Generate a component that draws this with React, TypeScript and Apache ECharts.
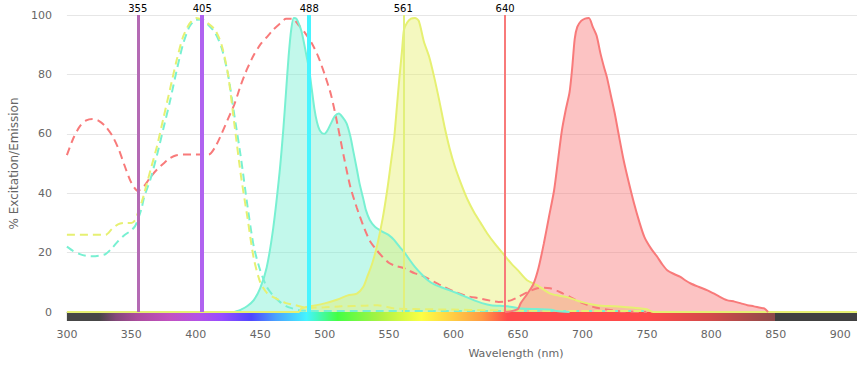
import React, { useEffect, useRef } from 'react';
import * as echarts from 'echarts';

const FONT = '"DejaVu Sans", sans-serif';

// axis range
const X_MIN = 300;
const X_MAX = 913;
const xTickInterval = 50;
const yTicks = [0, 20, 40, 60, 80, 100];

// laser lines (nm)
const laserWavelengths = [355, 405, 488, 561, 640];
const laserColors = ['#b46ab4', '#b063f0', '#48f4ff', '#e2f07c', '#f87a7a'];
const laserWidths = [3, 4, 4, 2, 2];

// excitation (dashed)
const cyanExWl = [300, 305, 310, 315, 320, 325, 330, 335, 340, 345, 350, 353, 355, 358, 360, 365, 370, 375, 380, 385, 390, 395, 400, 405, 410, 415, 420, 425, 430, 435, 440, 445, 450, 455, 460, 465, 470, 475, 480, 490, 750];
const cyanExVal = [22, 20.5, 19.5, 18.9, 18.8, 19, 19.5, 21.5, 24, 26, 27.5, 29, 31, 35, 38.8, 45, 53, 62, 71, 81, 90, 96, 98.4, 98.5, 96.5, 94, 89, 80, 66, 52, 36, 22, 14, 8.5, 5.5, 3.5, 2, 1.2, 0.6, 0.3, 0.3];

const yellowExWl = [300, 310, 320, 330, 335, 340, 345, 350, 353, 355, 358, 360, 365, 370, 375, 380, 385, 390, 395, 400, 405, 410, 415, 420, 425, 430, 435, 440, 445, 450, 455, 460, 465, 470, 477, 487, 500, 513, 530, 541, 554, 570, 600, 627, 700, 750];
const yellowExVal = [26, 26, 26, 26, 28, 29.6, 30, 30, 31, 33.3, 37, 40, 48, 56, 65.5, 75, 84.5, 92.5, 97, 99, 98.4, 97, 95, 90, 80, 63, 46, 32, 18, 10, 6.5, 5, 4, 3, 2.3, 1.4, 1.6, 1.9, 2.1, 2.3, 1.2, 1, 0.8, 0.6, 0.3, 0.3];

const redExWl = [300, 305, 310, 315, 320, 325, 330, 335, 340, 345, 350, 355, 360, 365, 370, 375, 380, 385, 390, 400, 410, 415, 420, 425, 430, 435, 440, 445, 450, 455, 460, 465, 470, 475, 480, 485, 490, 495, 500, 505, 510, 515, 520, 525, 530, 535, 540, 545, 550, 555, 560, 565, 570, 575, 580, 590, 600, 610, 620, 630, 635, 640, 645, 650, 655, 660, 665, 670, 675, 680, 685, 690, 695, 700, 705, 710, 720, 730, 750];
const redExVal = [52.8, 58.5, 62.5, 64.5, 65, 64.3, 62.5, 59.5, 55, 49, 43.5, 40.8, 42.5, 45.5, 48, 50, 51.8, 52.8, 53, 53, 53, 55.5, 60, 65, 70, 76.5, 82, 86.5, 90, 92.5, 95, 97, 98.7, 98.7, 96.5, 93.8, 90.5, 86, 80, 73, 63, 52, 42, 35, 29, 24, 21, 18.5, 16.5, 15.5, 15, 14, 13, 12.3, 11.3, 9, 7, 5.4, 4.6, 3.7, 3.4, 3.5, 4, 5, 6.2, 7.2, 8, 8.2, 8, 7.2, 6.2, 5.2, 4, 3, 2.2, 1.5, 0.8, 0.2, 0];

// emission (filled)
const cyanEmWl = [430, 435, 440, 445, 450, 455, 460, 465, 468, 470, 472, 474, 476, 478, 480, 482, 484, 486, 488, 490, 492, 494, 496, 498, 500, 502, 505, 508, 511, 514, 517, 520, 522, 525, 527, 530, 532, 535, 539, 545, 550, 554, 558, 562, 566, 570, 575, 580, 585, 590, 597, 603, 610, 616, 622, 629, 642, 652, 665, 676, 680, 690];
const cyanEmVal = [0, 0.8, 2, 4, 8, 15, 28, 47, 62, 74, 86, 95, 99, 98.8, 97, 94.5, 90.5, 86, 81.5, 75, 68.5, 64, 61.3, 60.2, 60, 61, 63.6, 66, 66.8, 65.5, 63.5, 59, 54.6, 48, 43.4, 38, 34.3, 31, 28.7, 27, 25.8, 24.2, 22, 20, 17.5, 15.2, 12.8, 10.7, 9.3, 8.4, 7.3, 6.3, 5, 3.9, 3, 2.3, 1.9, 1.2, 1, 0.8, 0.3, 0];

const yellowEmWl = [300, 480, 482, 490, 500, 510, 518, 525, 530, 533, 537, 541, 545, 548.5, 551, 554, 556, 558, 560, 561.5, 564, 567, 570, 573, 577, 581, 585, 589, 593, 597, 601, 606, 611, 616, 621, 626, 632, 640, 645, 650, 657, 665, 670, 675, 682, 688, 699, 711, 725, 740, 750, 755, 913];
const yellowEmVal = [0, 0, 1.2, 2, 2.9, 4.2, 5.6, 6.2, 8.5, 11.8, 16.5, 23, 31.5, 41, 49, 59, 69, 79, 88, 95, 97.5, 98.8, 99, 98, 91, 86, 79, 71, 62.4, 55, 49, 43, 37.7, 33.5, 30, 26.5, 23, 18.8, 16.2, 14, 10.7, 9, 7.5, 6.2, 5.5, 5, 3.4, 2.3, 1.9, 1.4, 0.9, 0, 0];

const redEmWl = [640, 645, 650, 652, 657, 662, 666, 670, 674, 678, 681, 684, 687, 690, 692, 694, 696, 699, 702, 705, 708, 711, 714, 717, 719, 722, 725, 728, 732, 736, 740, 744, 748, 753, 758, 762, 766, 771, 776, 780, 784, 790, 797, 805, 812, 818, 823, 828, 833, 838, 841, 844];
const redEmVal = [0, 0.3, 1, 2.9, 6, 9.5, 15, 23, 32, 41, 51, 61, 68, 74, 82, 92, 96, 98, 98.8, 99, 96, 93, 87, 82, 79, 73, 67, 60, 51, 43.5, 36.6, 30.5, 25.3, 21.5, 18.6, 16, 14, 12.8, 11.8, 10.6, 9.6, 8.5, 7.3, 5.5, 4, 3.5, 2.9, 2.3, 1.9, 1.4, 1.2, 0];

// spectrum colour bar stops (nm, colour)
const spectrumStops: [number, string][] = [
  [300, '#464646'], [325, '#464646'], [338, '#84487a'], [355, '#ad4c9e'], [380, '#c251c2'],
  [402, '#b452e6'], [420, '#984cff'], [443, '#5046ff'], [462, '#4aa2ff'], [486, '#44f4ff'],
  [510, '#44ff44'], [542, '#a8f244'], [575, '#fcff44'], [598, '#ffd044'], [622, '#ff9a44'],
  [642, '#ff4a4a'], [750, '#ff4a4a'], [800, '#d24a4a'], [849, '#8e4a4a'], [849.6, '#404040'], [913, '#404040'],
];

const zip = (xs: number[], ys: number[]) => xs.map((x, i) => [x, ys[i]]);

const CYAN = '#78f0d2';
const YELLOW = '#e6f072';
const RED = '#f87a7a';

function buildOption(): any {
  const span = X_MAX - X_MIN;
  const grad = new echarts.graphic.LinearGradient(
    0, 0, 1, 0,
    spectrumStops.map(([w, c]) => ({ offset: (w - X_MIN) / span, color: c }))
  );
  const dashed = (name: string, color: string, data: number[][]) => ({
    name, type: 'line', data, symbol: 'none', showSymbol: false, smooth: 0.25,
    lineStyle: { color, width: 2, type: [8, 5] }, silent: true,
  });
  const filled = (name: string, color: string, data: number[][]) => ({
    name, type: 'line', data, symbol: 'none', showSymbol: false, smooth: 0.25,
    lineStyle: { color, width: 2 }, areaStyle: { color, opacity: 0.45 }, silent: true,
  });
  return {
    animation: false,
    textStyle: { fontFamily: FONT },
    grid: { left: 65, right: 0, top: 15, bottom: 59 },
    xAxis: {
      type: 'value', min: X_MIN, max: X_MAX, interval: xTickInterval, offset: 9,
      name: 'Wavelength (nm)', nameLocation: 'middle', nameGap: 27,
      nameTextStyle: { color: '#666666', fontSize: 11, fontFamily: FONT, padding: [0, 0, 0, 108] },
      axisLine: { show: true, lineStyle: { color: '#ccd6eb', width: 1 } },
      axisTick: { show: true, length: 6, lineStyle: { color: '#ccd6eb' } },
      axisLabel: { color: '#666666', fontSize: 11, fontFamily: FONT, margin: 8,
        showMaxLabel: false },
      splitLine: { show: false },
    },
    yAxis: {
      type: 'value', min: yTicks[0], max: yTicks[yTicks.length - 1], interval: yTicks[1] - yTicks[0],
      name: '% Excitation/Emission', nameLocation: 'middle', nameGap: 46,
      nameTextStyle: { color: '#666666', fontSize: 12, fontFamily: FONT },
      axisLine: { show: false }, axisTick: { show: false },
      axisLabel: { color: '#666666', fontSize: 11, fontFamily: FONT, margin: 15 },
      splitLine: { lineStyle: { color: '#e6e6e6', width: 1 } },
    },
    series: [
      {
        type: 'custom', silent: true, clip: false, z: 1,
        data: [[X_MIN, 0, X_MAX]], encode: { x: 0, y: 1 },
        renderItem: (_p: any, api: any) => {
          const a = api.coord([api.value(0), 0]);
          const b = api.coord([api.value(2), 0]);
          return { type: 'rect', shape: { x: a[0], y: a[1], width: b[0] - a[0], height: 9 }, style: { fill: grad } };
        },
      },
      {
        type: 'line', name: 'lasers', data: [[X_MIN, 0]], symbol: 'none', silent: true,
        lineStyle: { opacity: 0 },
        markLine: {
          silent: true, symbol: ['none', 'none'], animation: false,
          data: laserWavelengths.map((w, i) => ({
            xAxis: w,
            lineStyle: { color: laserColors[i], width: laserWidths[i], type: 'solid' },
            label: { show: true, position: 'end', formatter: String(w), color: '#000000', fontSize: 10, fontFamily: FONT, distance: 2 },
          })),
        },
      },
      dashed('Red Ex', RED, zip(redExWl, redExVal)),
      dashed('Cyan Ex', CYAN, zip(cyanExWl, cyanExVal)),
      dashed('Yellow Ex', YELLOW, zip(yellowExWl, yellowExVal)),
      filled('Cyan Em', CYAN, zip(cyanEmWl, cyanEmVal)),
      filled('Yellow Em', YELLOW, zip(yellowEmWl, yellowEmVal)),
      filled('Red Em', RED, zip(redEmWl, redEmVal)),
    ],
  };
}

export default function App() {
  const ref = useRef<HTMLDivElement>(null);
  useEffect(() => {
    if (!ref.current) return;
    const chart = echarts.init(ref.current, null, { renderer: 'svg' });
    chart.setOption(buildOption());
    return () => chart.dispose();
  }, []);
  return <div ref={ref} style={{ position: 'fixed', left: 0, top: 0, width: 857, height: 371, background: '#ffffff' }} />;
}
